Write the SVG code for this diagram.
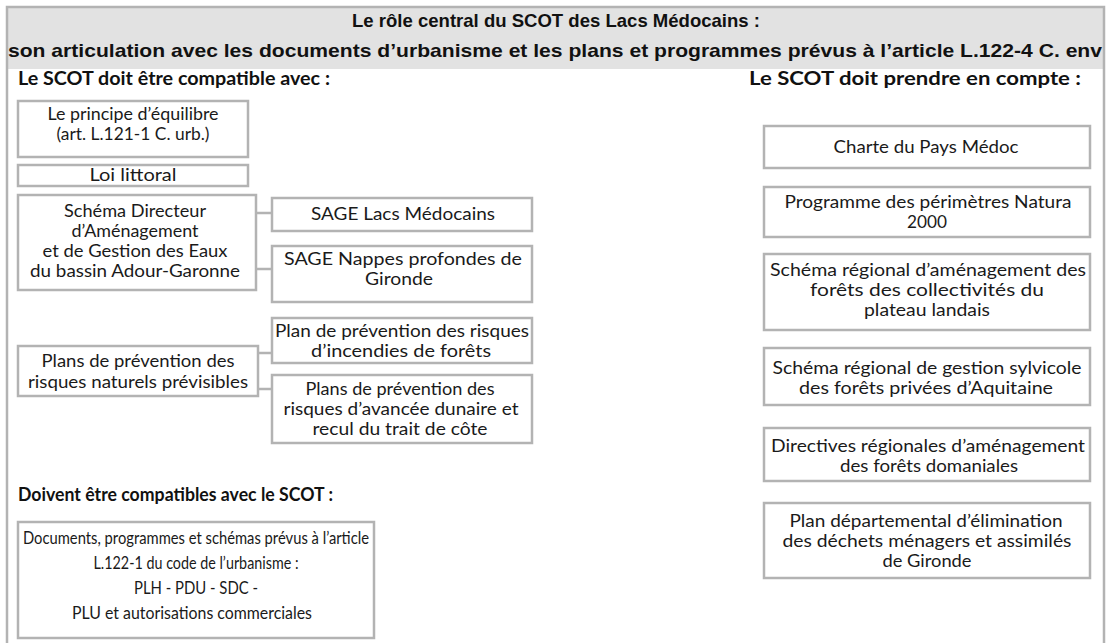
<svg xmlns="http://www.w3.org/2000/svg" width="1113" height="643" viewBox="0 0 1113 643">
<style>
.frame{fill:none;stroke:#b3b3b3;stroke-width:2.5}
.box{fill:#fff;stroke:#b3b3b3;stroke-width:2.5}
.conn{stroke:#b3b3b3;stroke-width:2.5;fill:none}
.t{font-family:Lato,"Open Sans","Liberation Sans",sans-serif;font-size:17px;fill:#1a1a1a;text-anchor:middle}
.tb{font-family:Lato,"Open Sans","Liberation Sans",sans-serif;font-size:16.5px;fill:#1a1a1a;text-anchor:middle}
.h{font-family:Lato,"Liberation Sans",sans-serif;font-size:18px;font-weight:bold;fill:#111}
.title{font-family:"Liberation Sans",Arial,sans-serif;font-size:19px;font-weight:bold;fill:#111;text-anchor:middle}
</style>
<g id="frame">
<rect x="7" y="7" width="1097" height="62" fill="#e2e2e2"/>
<path class="frame" d="M7,650 V7 H1104 V650"/>
</g>
<g id="title">
<text class="title" x="556" y="27" textLength="408" lengthAdjust="spacingAndGlyphs">Le rôle central du SCOT des Lacs Médocains :</text>
<text class="title" x="555" y="57" textLength="1094" lengthAdjust="spacingAndGlyphs">son articulation avec les documents d’urbanisme et les plans et programmes prévus à l’article L.122-4 C. env</text>
</g>
<g id="headers">
<text class="h" x="18" y="85" textLength="312" lengthAdjust="spacingAndGlyphs">Le SCOT doit être compatible avec :</text>
<text class="h" x="749" y="85" textLength="332" lengthAdjust="spacingAndGlyphs">Le SCOT doit prendre en compte :</text>
<text class="h" x="18" y="501" textLength="315" lengthAdjust="spacingAndGlyphs">Doivent être compatibles avec le SCOT :</text>
</g>
<g id="connectors">
<line class="conn" x1="256" y1="213" x2="272" y2="213"/>
<line class="conn" x1="256" y1="269" x2="272" y2="269"/>
<line class="conn" x1="258" y1="353" x2="272" y2="353"/>
<line class="conn" x1="258" y1="389" x2="272" y2="389"/>
</g>
<g id="principe">
<rect class="box" x="18" y="101" width="230" height="56"/>
<text class="t" x="133" y="120" textLength="171" lengthAdjust="spacingAndGlyphs">Le principe d’équilibre</text>
<text class="t" x="133" y="140" textLength="153" lengthAdjust="spacingAndGlyphs">(art. L.121-1 C. urb.)</text>
</g>
<g id="loi-littoral">
<rect class="box" x="18" y="165" width="230" height="21"/>
<text class="t" x="133" y="181" textLength="87" lengthAdjust="spacingAndGlyphs">Loi littoral</text>
</g>
<g id="sdage">
<rect class="box" x="18" y="195" width="238" height="95"/>
<text class="t" x="135" y="217" textLength="142" lengthAdjust="spacingAndGlyphs">Schéma Directeur</text>
<text class="t" x="135" y="237" textLength="127" lengthAdjust="spacingAndGlyphs">d’Aménagement</text>
<text class="t" x="135" y="257" textLength="185" lengthAdjust="spacingAndGlyphs">et de Gestion des Eaux</text>
<text class="t" x="135" y="277" textLength="210" lengthAdjust="spacingAndGlyphs">du bassin Adour-Garonne</text>
</g>
<g id="sage-lacs">
<rect class="box" x="272" y="198" width="260" height="33"/>
<text class="t" x="403" y="220" textLength="184" lengthAdjust="spacingAndGlyphs">SAGE Lacs Médocains</text>
</g>
<g id="sage-nappes">
<rect class="box" x="272" y="246" width="260" height="56"/>
<text class="t" x="403" y="265" textLength="238" lengthAdjust="spacingAndGlyphs">SAGE Nappes profondes de</text>
<text class="t" x="399" y="285" textLength="68" lengthAdjust="spacingAndGlyphs">Gironde</text>
</g>
<g id="ppr">
<rect class="box" x="18" y="346" width="240" height="50"/>
<text class="t" x="138" y="367" textLength="193" lengthAdjust="spacingAndGlyphs">Plans de prévention des</text>
<text class="t" x="138" y="388" textLength="220" lengthAdjust="spacingAndGlyphs">risques naturels prévisibles</text>
</g>
<g id="pprif">
<rect class="box" x="272" y="318" width="260" height="45"/>
<text class="t" x="402" y="337" textLength="254" lengthAdjust="spacingAndGlyphs">Plan de prévention des risques</text>
<text class="t" x="401" y="357" textLength="180" lengthAdjust="spacingAndGlyphs">d’incendies de forêts</text>
</g>
<g id="ppr-dunaire">
<rect class="box" x="272" y="375" width="260" height="68"/>
<text class="t" x="400" y="395" textLength="189" lengthAdjust="spacingAndGlyphs">Plans de prévention des</text>
<text class="t" x="401" y="415" textLength="235" lengthAdjust="spacingAndGlyphs">risques d’avancée dunaire et</text>
<text class="t" x="400" y="435" textLength="175" lengthAdjust="spacingAndGlyphs">recul du trait de côte</text>
</g>
<g id="documents">
<rect class="box" x="18" y="522" width="356" height="116"/>
<text class="tb" x="196" y="544" textLength="346" lengthAdjust="spacingAndGlyphs">Documents, programmes et schémas prévus à l’article</text>
<text class="tb" x="196" y="569" textLength="205" lengthAdjust="spacingAndGlyphs">L.122-1 du code de l’urbanisme :</text>
<text class="tb" x="196" y="594" textLength="124" lengthAdjust="spacingAndGlyphs">PLH - PDU - SDC -</text>
<text class="tb" x="192" y="619" textLength="240" lengthAdjust="spacingAndGlyphs">PLU et autorisations commerciales</text>
</g>
<g id="charte">
<rect class="box" x="764" y="126" width="326" height="42"/>
<text class="t" x="926" y="153" textLength="185" lengthAdjust="spacingAndGlyphs">Charte du Pays Médoc</text>
</g>
<g id="natura">
<rect class="box" x="764" y="187" width="326" height="50"/>
<text class="t" x="928" y="208" textLength="287" lengthAdjust="spacingAndGlyphs">Programme des périmètres Natura</text>
<text class="t" x="927" y="228" textLength="40" lengthAdjust="spacingAndGlyphs">2000</text>
</g>
<g id="srgs-collectivites">
<rect class="box" x="764" y="254" width="326" height="76"/>
<text class="t" x="928" y="276" textLength="316" lengthAdjust="spacingAndGlyphs">Schéma régional d’aménagement des</text>
<text class="t" x="927" y="296" textLength="234" lengthAdjust="spacingAndGlyphs">forêts des collectivités du</text>
<text class="t" x="927" y="316" textLength="126" lengthAdjust="spacingAndGlyphs">plateau landais</text>
</g>
<g id="srgs-privees">
<rect class="box" x="764" y="348" width="326" height="57"/>
<text class="t" x="927" y="374" textLength="309" lengthAdjust="spacingAndGlyphs">Schéma régional de gestion sylvicole</text>
<text class="t" x="926" y="394" textLength="254" lengthAdjust="spacingAndGlyphs">des forêts privées d’Aquitaine</text>
</g>
<g id="directives">
<rect class="box" x="764" y="428" width="326" height="53"/>
<text class="t" x="928" y="452" textLength="314" lengthAdjust="spacingAndGlyphs">Directives régionales d’aménagement</text>
<text class="t" x="929" y="472" textLength="178" lengthAdjust="spacingAndGlyphs">des forêts domaniales</text>
</g>
<g id="pdedma">
<rect class="box" x="764" y="503" width="326" height="75"/>
<text class="t" x="926" y="527" textLength="273" lengthAdjust="spacingAndGlyphs">Plan départemental d’élimination</text>
<text class="t" x="927" y="547" textLength="289" lengthAdjust="spacingAndGlyphs">des déchets ménagers et assimilés</text>
<text class="t" x="927" y="567" textLength="89" lengthAdjust="spacingAndGlyphs">de Gironde</text>
</g>
</svg>
